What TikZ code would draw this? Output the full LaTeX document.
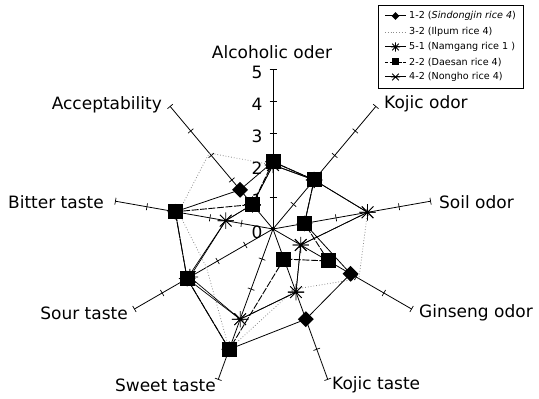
\documentclass[tikz,border=0pt]{standalone}
\usepackage{fontspec}
\setmainfont{DejaVu Sans}
\usetikzlibrary{shapes.geometric,calc}
\begin{document}
\begin{tikzpicture}[x=1pt,y=1pt,
  axisline/.style={line width=0.8pt,black},
  tickmark/.style={line width=0.7pt,black},
  axlabel/.style={font=\fontsize{17}{17}\selectfont,inner sep=0pt},
  numlabel/.style={font=\fontsize{17}{17}\selectfont,inner sep=0pt},
  legtext/.style={font=\fontsize{9.6}{10}\selectfont,anchor=west,inner sep=0pt},
  sA/.style={line width=0.8pt,black},
  sB/.style={line width=0.8pt,black!45,dotted},
  sC/.style={line width=0.7pt,black},
  sD/.style={line width=0.9pt,black,dash pattern=on 7pt off 1.5pt},
  sE/.style={line width=0.7pt,black},
  spoke/.style={line width=0.8pt,black},
  dmark/.style={diamond,fill=black,inner sep=0pt,minimum size=#1},
  dmark/.default=16pt,
  smark/.style={rectangle,fill=black,inner sep=0pt,minimum size=#1},
  smark/.default=15pt,
  cmark/.style={circle,inner sep=0pt,minimum size=#1},
  cmark/.default=16pt,
]
\useasboundingbox (0,0) rectangle (539,399);
\coordinate (C) at (273,170);

% axes with ticks
\foreach \i in {0,...,8} {
  \pgfmathsetmacro\ang{90-40*\i}
  \draw[axisline] (C) -- ([shift={(C)}]\ang:160pt) coordinate (e\i);
  \foreach \k in {1,...,5}
    \draw[tickmark] ([shift={(C)}]\ang:{\k*32pt}) ++(\ang+90:3.5pt) -- ++(\ang-90:7pt);
}

% axis labels
\node[axlabel] (l0) at (272,347) {Alcoholic oder};
\node[axlabel,anchor=west] (l1) at (384,295) {Kojic odor};
\node[axlabel,anchor=west] (l2) at (439,197) {Soil odor};
\node[axlabel,anchor=west] (l3) at (419,86) {Ginseng odor};
\node[axlabel,anchor=west] (l4) at (332,14) {Kojic taste};
\node[axlabel,anchor=east] (l5) at (216,14) {Sweet taste};
\node[axlabel,anchor=east] (l6) at (128,86) {Sour taste};
\node[axlabel,anchor=east] (l7) at (104,197) {Bitter taste};
\node[axlabel,anchor=east] (l8) at (162,294) {Acceptability};

% scale numbers
\foreach \k in {0,...,5}
  \node[numlabel] (n\k) at (257,{167+32*\k}) {\k};

% series data
\foreach \v [count=\i from 0] in {2.0,2.0,3.0,3.1,2.0,4.0,2.4,3.0,3.1}
  \coordinate (b\i) at ([shift={(C)}]{90-40*\i}:{\v*32pt});
\foreach \v [count=\i from 0] in {2.1,2.0,1.0,2.8,3.0,4.0,3.1,3.1,1.6}
  \coordinate (a\i) at ([shift={(C)}]{90-40*\i}:{\v*32pt});
\foreach \v [count=\i from 0] in {2.0,2.0,3.0,1.0,2.1,3.0,3.0,1.5,1.0}
  \coordinate (c\i) at ([shift={(C)}]{90-40*\i}:{\v*32pt});
\foreach \v [count=\i from 0] in {2.1,2.0,1.0,2.0,1.0,4.0,3.1,3.1,1.0}
  \coordinate (d\i) at ([shift={(C)}]{90-40*\i}:{\v*32pt});
\foreach \v [count=\i from 0] in {2.0,2.0,3.0,1.0,2.1,3.0,3.1,1.5,1.0}
  \coordinate (f\i) at ([shift={(C)}]{90-40*\i}:{\v*32pt});

\draw[sB] (b0)--(b1)--(b2)--(b3)--(b4)--(b5)--(b6)--(b7)--(b8)--cycle;
\draw[sA] (a0)--(a1)--(a2)--(a3)--(a4)--(a5)--(a6)--(a7)--(a8)--cycle;
\draw[sC] (c0)--(c1)--(c2)--(c3)--(c4)--(c5)--(c6)--(c7)--(c8)--cycle;
\draw[sD] (d0)--(d1)--(d2)--(d3)--(d4)--(d5)--(d6)--(d7)--(d8)--cycle;
\draw[sE] (f0)--(f1)--(f2)--(f3)--(f4)--(f5)--(f6)--(f7)--(f8)--cycle;

\foreach \i in {0,...,8} {
  \node[cmark] (fm\i) at (f\i) {};
  \draw[spoke] (fm\i.west) -- (fm\i.east) (fm\i.north east) -- (fm\i.south west) (fm\i.north west) -- (fm\i.south east);
  \node[cmark] (cm\i) at (c\i) {};
  \draw[spoke] (cm\i.west) -- (cm\i.east) (cm\i.north) -- (cm\i.south) (cm\i.north east) -- (cm\i.south west) (cm\i.north west) -- (cm\i.south east);
  \node[smark] (dm\i) at (d\i) {};
  \node[dmark] (am\i) at (a\i) {};
}
\fill (C) circle (2pt);

% legend
\draw[line width=0.8pt] (378,311) rectangle (523,394);
\foreach \y/\n in {383/1,367/2,352/3,337/4,322/5} {
  \coordinate (la\n) at (385,\y);
  \coordinate (lb\n) at (406,\y);
}
\draw[sA,line width=1pt] (la1) -- (lb1);
\node[dmark=8pt] (lm1) at ($(la1)!0.5!(lb1)$) {};
\draw[sB] (la2) -- (lb2);
\draw[sC,line width=1pt] (la3) -- (lb3);
\node[cmark=9pt] (lm3) at ($(la3)!0.5!(lb3)$) {};
\draw[spoke] (lm3.west) -- (lm3.east) (lm3.north) -- (lm3.south) (lm3.north east) -- (lm3.south west) (lm3.north west) -- (lm3.south east);
\draw[sD,dash pattern=on 3pt off 1.5pt] (la4) -- (lb4);
\node[smark=7pt] (lm4) at ($(la4)!0.5!(lb4)$) {};
\draw[sE,line width=1pt] (la5) -- (lb5);
\node[cmark=9pt] (lm5) at ($(la5)!0.5!(lb5)$) {};
\draw[spoke] (lm5.west) -- (lm5.east) (lm5.north east) -- (lm5.south west) (lm5.north west) -- (lm5.south east);
\node[legtext] (t1) at (409,383) {1-2 (\textit{Sindongjin rice 4})};
\node[legtext] (t2) at (409,367) {3-2 (Ilpum rice 4)};
\node[legtext] (t3) at (409,352) {5-1 (Namgang rice 1 )};
\node[legtext] (t4) at (409,337) {2-2 (Daesan rice 4)};
\node[legtext] (t5) at (409,322) {4-2 (Nongho rice 4)};
\end{tikzpicture}
\end{document}
